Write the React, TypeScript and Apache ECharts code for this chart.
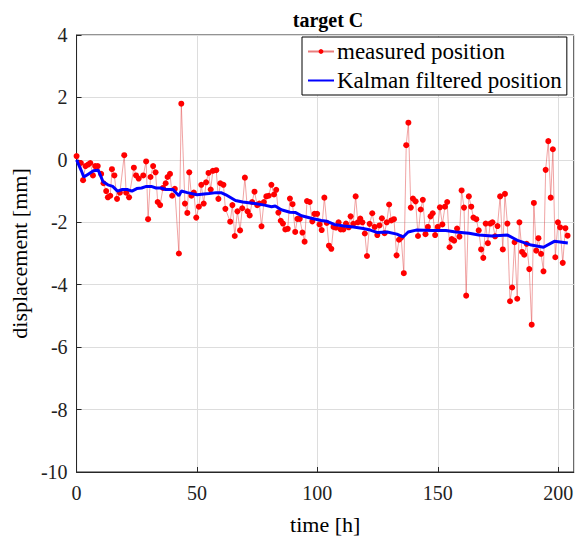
import React, { useEffect, useRef } from "react";
import * as echarts from "echarts";

const chartTitle = "target C";
const xAxisName = "time [h]";
const yAxisName = "displacement [mm]";
const seriesNames = ["measured position", "Kalman filtered position"];

const measuredHours = [
  0, 1.8, 2.7, 3.7, 4.8, 5.7, 6.8, 7.7, 8.8, 10.2, 11.2, 12.3, 13, 14, 14.7, 15.7, 16.8, 18, 19.8, 20.6,
  21.8, 23.8, 24.7, 25.8, 27.7, 28.9, 29.7, 30.7, 31.8, 32.8, 33.7, 34.7, 35.9, 37, 37.8, 38.8, 39.7,
  40.8, 42.5, 43.5, 45, 46, 46.8, 47.7, 48.7, 49.7, 50.8, 51.8, 52.8, 53.8, 54.8, 55.7, 56.6, 58, 58.9,
  59.7, 61, 61.8, 63.8, 64.7, 65.7, 66.8, 67.9, 68.8, 69.9, 71, 71.9, 72.9, 73.9, 75, 75.9, 76.8, 77.8,
  78.8, 79.8, 80.9,
  82, 82.9, 83.8, 84.8, 85.7, 86.7, 87.7, 88.6, 89.7, 90.8, 91.7, 92.7, 93.8, 94.7, 95.7, 96.8, 97.9,
  98.8, 99.9, 100.9, 101.8, 102.9, 103.9, 104.8, 105.8, 106.7, 107.7, 108.8, 109.7, 110.8, 111.9, 113,
  113.8, 114.9, 115.9, 116.8, 117.8, 118.7, 119.7, 120.6, 121.7,
  122.8, 123.8, 124.9, 125.8, 126.8, 127.9, 128.8, 129.8, 130.7, 131.8, 132.9, 133.9, 134.8, 135.9,
  136.9, 137.8, 138.8, 139.7, 140.8, 141.8, 142.9, 143.8, 144.9, 145.9, 147, 147.9, 148.9, 150, 150.9,
  151.9, 153, 153.9, 154.9, 155.8, 156.8, 158, 159, 159.9, 160.9, 161.8,
  162.9, 163.9, 164.8, 166, 167, 168, 168.9, 169.9, 170.8, 171.8, 172.7, 173.8, 174.8, 175.9, 177,
  177.9, 178.9, 180, 180.9, 181.9, 183, 183.9, 185, 185.9, 186.9, 188, 189, 189.9, 190.9, 191.8, 192.9,
  193.9, 194.8, 195.9, 196.9, 197.8, 198.8, 199.9, 200.8, 201.9, 203, 203.9,
];

const measuredValues = [
  0.12, -0.1, -0.65, -0.2, -0.15, -0.1, -0.5, -0.2, -0.2, -0.45, -0.75, -1.0, -1.2, -1.15, -0.3, -0.5, -1.25, -1.05, 0.15, -1.05,
  -1.2, -0.25, -0.5, -0.6, -0.5, -0.05, -1.9, -0.55, -0.2, -0.4, -1.35, -1.45, -0.9, -0.75, -0.55, -0.45, -1.15,
  -0.93, -3.0, 1.8, -1.4, -1.7, -0.4, -1.15, -1.05, -1.85, -1.5, -0.8, -1.4, -0.72, -0.42, -0.95, -0.35, -0.33, -1.25,
  -0.75, -0.8, -1.57, -1.98, -1.45, -2.44, -1.65, -2.26, -1.55, -0.57, -1.65, -1.78, -1.35, -1.02, -1.45, -1.4, -2.13, -1.35,
  -1.17, -1.15, -0.8,
  -1.11, -0.96, -1.69, -1.95, -2.04, -2.23, -2.21, -1.24, -1.42, -2.31, -1.89, -1.89, -2.33, -2.62, -1.32, -1.35, -1.97,
  -1.73, -1.73, -2.07, -2.25, -1.21, -2.02, -2.75, -2.85, -2.15, -2.17, -2.0, -2.23, -2.23, -2.04, -2.16,
  -1.81, -2.05, -1.17, -2.0, -1.88, -2.0, -2.36, -3.08, -2.05,
  -1.71, -2.15, -2.41, -2.1, -1.87, -2.35, -2.0, -1.43, -1.94, -1.9, -3.06, -2.56, -2.49, -3.63,
  0.47, 1.19, -1.53, -1.24, -1.33, -2.44, -1.59, -1.28, -2.38, -2.15, -1.81, -1.71, -2.41, -2.15, -1.52,
  -2.07, -1.5, -1.35, -2.8, -2.54, -2.59, -2.2, -2.46, -0.98, -1.53, -4.35,
  -1.17, -1.5, -1.85, -1.9, -2.26, -2.87, -3.14, -2.04, -2.67, -2.04, -2.0, -2.45, -2.12, -1.17, -2.87,
  -1.09, -2.04, -4.53, -4.09, -2.64, -4.45, -2.0, -2.95, -3.04, -2.69, -3.5, -5.28, -1.38, -2.91, -2.51, -3.01,
  -3.57, -0.32, 0.6, -1.21, 0.34, -3.12, -2.0, -2.16, -3.3, -2.19, -2.43,
];

const kalmanHours = [
  0, 2, 3, 5, 7, 9, 11, 13, 15, 17, 19, 21, 23, 25, 27, 29, 31, 33, 35, 37, 40, 42.5, 43.5, 46, 50, 55,
  58, 60, 62, 66, 69, 74, 78, 81, 82.5, 85, 88.6, 91, 93.4, 97.5, 101.6, 104, 107, 111, 115, 119, 122,
  125, 129, 133, 135.6, 137.7, 141, 148, 153.4, 157.5, 163, 167, 172.5, 179, 183.4, 188.8, 193.9, 198.4, 204,
];
const kalmanValues = [
  0, -0.35, -0.55, -0.45, -0.35, -0.33, -0.7, -0.8, -0.85, -1.0, -0.95, -0.95, -1.0, -0.92, -0.9, -0.85, -0.85, -0.9, -0.9, -0.95, -0.95, -1.15, -1.0, -1.05, -1.12, -1.08,
  -1.05, -1.05, -1.12, -1.3, -1.35, -1.4, -1.45, -1.5, -1.48, -1.6, -1.68, -1.69, -1.79, -1.87, -1.94, -1.97, -2.07, -2.12, -2.15, -2.2, -2.25,
  -2.33, -2.31, -2.38, -2.47, -2.31, -2.25, -2.26, -2.26, -2.31, -2.35, -2.41, -2.44, -2.41, -2.59, -2.73, -2.8, -2.61, -2.66,
];

const xMin = 0;
const xMax = 206.5;
const xInterval = 50;
const yMin = -10;
const yMax = 4;
const yInterval = 2;

const FONT = "Liberation Serif";
const AXIS_COLOR = "#262626";

export default function App() {
  const ref = useRef<HTMLDivElement>(null);

  useEffect(() => {
    if (!ref.current) return;
    const chart = echarts.init(ref.current, undefined, { renderer: "svg" });
    const measured = measuredHours.map((h, i) => [h, measuredValues[i]]);
    const kalman = kalmanHours.map((h, i) => [h, kalmanValues[i]]);

    chart.setOption({
      animation: false,
      backgroundColor: "#ffffff",
      textStyle: { fontFamily: FONT },
      title: {
        text: chartTitle,
        left: 323,
        textAlign: "center",
        top: 5,
        textStyle: { fontFamily: FONT, fontSize: 20, fontWeight: "bold", color: "#000" },
      },
      legend: {
        data: [
          { name: seriesNames[0] },
          { name: seriesNames[1], itemStyle: { color: "rgba(0,0,0,0)", borderWidth: 0, opacity: 0 } },
        ],
        orient: "vertical",
        left: 302,
        top: 37,
        backgroundColor: "#ffffff",
        borderColor: "#000",
        borderWidth: 1,
        padding: [3, 5, 3, 5],
        itemGap: 6,
        itemWidth: 26,
        itemHeight: 6,
        textStyle: { fontFamily: FONT, fontSize: 23, color: "#000", padding: [0, 0, 0, -2] },
      },
      grid: {
        left: 71,
        top: 35,
        width: 506,
        height: 448,
        show: true,
        borderColor: AXIS_COLOR,
        borderWidth: 1,
        backgroundColor: "#fff",
      },
      xAxis: {
        type: "value",
        min: xMin,
        max: xMax,
        interval: xInterval,
        name: xAxisName,
        nameLocation: "middle",
        nameGap: 41,
        nameTextStyle: { fontFamily: FONT, fontSize: 22, color: "#000" },
        axisLine: { show: true, onZero: false, lineStyle: { color: AXIS_COLOR, width: 1 } },
        axisTick: { show: true, inside: true, length: 5, lineStyle: { color: AXIS_COLOR } },
        axisLabel: {
          fontFamily: FONT,
          fontSize: 20,
          color: "#222",
          margin: 11,
          showMaxLabel: false,
        },
        splitLine: { show: true, lineStyle: { color: "#dddddd", width: 1 } },
      },
      yAxis: {
        type: "value",
        min: yMin,
        max: yMax,
        interval: yInterval,
        name: yAxisName,
        nameLocation: "middle",
        nameGap: 40,
        nameTextStyle: { fontFamily: FONT, fontSize: 22, color: "#000" },
        axisLine: { show: true, onZero: false, lineStyle: { color: AXIS_COLOR, width: 1 } },
        axisTick: { show: true, inside: true, length: 5, lineStyle: { color: AXIS_COLOR } },
        axisLabel: { fontFamily: FONT, fontSize: 20, color: "#222", margin: 9 },
        splitLine: { show: true, lineStyle: { color: "#dddddd", width: 1 } },
      },
      series: [
        {
          name: seriesNames[0],
          type: "line",
          data: measured,
          symbol: "circle",
          symbolSize: 6,
          itemStyle: { color: "#ff0000" },
          lineStyle: { color: "rgba(225, 70, 70, 0.7)", width: 0.7 },
          z: 2,
        },
        {
          name: seriesNames[1],
          type: "line",
          data: kalman,
          symbol: "none",
          itemStyle: { color: "#0000ff" },
          lineStyle: { color: "#0000ff", width: 3 },
          z: 3,
        },
      ],
    });

    return () => chart.dispose();
  }, []);

  return (
    <div
      ref={ref}
      style={{ position: "absolute", left: 0, top: 0, width: 576, height: 540 }}
    />
  );
}
